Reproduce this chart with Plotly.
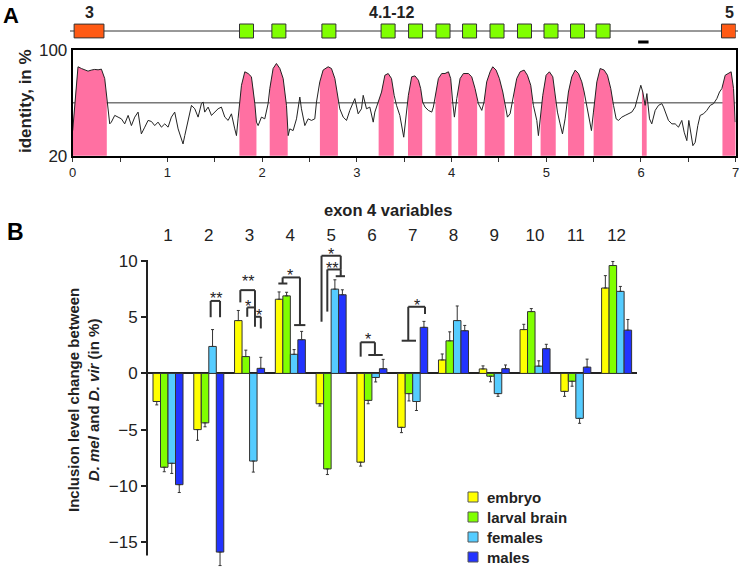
import numpy as np
import plotly.graph_objects as go

# ---------------- Panel A data ----------------
identity_pos = [0.000, 0.028, 0.056, 0.092, 0.127, 0.162, 0.197, 0.232, 0.268, 0.303, 0.338, 0.356, 0.373, 0.391,
                0.408, 0.444, 0.479, 0.514, 0.549, 0.585, 0.620, 0.655, 0.690, 0.725, 0.761, 0.796, 0.831, 0.866,
                0.901, 0.937, 0.972, 1.007, 1.042, 1.077, 1.113, 1.148, 1.165, 1.183, 1.218, 1.254, 1.289, 1.324,
                1.359, 1.377, 1.394, 1.430, 1.465, 1.500, 1.535, 1.570, 1.606, 1.641, 1.676, 1.711, 1.729, 1.746,
                1.782, 1.817, 1.852, 1.887, 1.905, 1.923, 1.940, 1.958, 1.993, 2.028, 2.063, 2.081, 2.116, 2.151,
                2.187, 2.222, 2.257, 2.275, 2.292, 2.327, 2.363, 2.398, 2.415, 2.451, 2.486, 2.521, 2.556, 2.574,
                2.609, 2.644, 2.697, 2.732, 2.768, 2.796, 2.820, 2.856, 2.891, 2.926, 2.961, 2.979, 3.014, 3.049,
                3.067, 3.102, 3.137, 3.173, 3.190, 3.225, 3.261, 3.296, 3.331, 3.366, 3.394, 3.419, 3.454, 3.495,
                3.544, 3.579, 3.614, 3.650, 3.674, 3.695, 3.720, 3.755, 3.791, 3.808, 3.826, 3.861, 3.896, 3.931,
                3.967, 3.991, 4.012, 4.030, 4.055, 4.090, 4.125, 4.178, 4.213, 4.248, 4.283, 4.319, 4.343, 4.371,
                4.407, 4.435, 4.470, 4.505, 4.541, 4.565, 4.590, 4.618, 4.653, 4.688, 4.724, 4.766, 4.801, 4.836,
                4.864, 4.900, 4.917, 4.935, 4.963, 4.998, 5.033, 5.069, 5.093, 5.118, 5.146, 5.171, 5.199, 5.234,
                5.269, 5.305, 5.340, 5.375, 5.400, 5.428, 5.453, 5.477, 5.498, 5.534, 5.569, 5.611, 5.646, 5.681,
                5.710, 5.738, 5.762, 5.798, 5.833, 5.868, 5.903, 5.938, 5.974, 5.998, 6.019, 6.044, 6.062, 6.090,
                6.114, 6.150, 6.185, 6.220, 6.238, 6.266, 6.290, 6.326, 6.361, 6.396, 6.431, 6.456, 6.484, 6.505,
                6.527, 6.548, 6.572, 6.600, 6.625, 6.660, 6.695, 6.731, 6.766, 6.801, 6.829, 6.854, 6.889, 6.924,
                6.952, 6.977, 6.995]
identity_pct = [39.0, 65.7, 87.3, 86.0, 84.8, 84.0, 84.8, 85.3, 85.0, 85.5, 78.4, 65.7, 53.0, 44.1,
                45.4, 50.5, 49.2, 47.9, 44.1, 50.5, 42.8, 49.2, 53.0, 36.5, 41.6, 46.7, 45.9, 42.8,
                45.4, 41.6, 44.1, 41.6, 49.2, 53.0, 40.3, 31.4, 28.9, 35.2, 46.7, 58.1, 55.5, 49.2,
                59.4, 60.6, 53.0, 56.8, 50.5, 53.0, 55.5, 56.8, 49.2, 46.7, 51.7, 40.3, 35.2, 47.9,
                73.3, 83.5, 82.2, 79.7, 70.8, 59.4, 45.4, 42.8, 49.2, 47.9, 59.4, 70.8, 86.0, 89.8,
                86.0, 78.4, 58.1, 35.2, 40.3, 39.0, 47.9, 64.4, 55.5, 42.8, 47.9, 46.7, 47.9, 60.6,
                75.9, 84.8, 87.3, 86.0, 78.4, 65.7, 55.5, 49.2, 46.7, 54.3, 59.4, 63.2, 51.7, 55.5,
                65.7, 55.5, 56.8, 45.4, 53.0, 60.6, 68.2, 80.9, 82.2, 78.4, 65.7, 58.1, 50.5, 34.0,
                65.7, 79.7, 80.4, 77.1, 70.8, 60.6, 56.8, 54.3, 53.0, 56.8, 64.4, 78.4, 82.2, 82.2,
                83.5, 78.4, 60.6, 49.2, 63.2, 78.4, 82.2, 82.2, 79.7, 70.8, 59.4, 54.3, 60.6, 75.9,
                83.5, 87.3, 84.8, 78.4, 68.2, 58.1, 49.2, 51.7, 65.7, 78.4, 83.5, 84.8, 80.9, 73.3,
                58.1, 46.7, 35.2, 45.4, 65.7, 80.9, 83.5, 79.7, 65.7, 53.0, 44.1, 36.5, 47.9, 68.2,
                79.7, 84.8, 82.2, 75.9, 68.2, 58.1, 46.7, 39.0, 53.0, 75.9, 86.0, 84.8, 80.9, 70.8,
                58.1, 47.9, 46.7, 49.2, 50.5, 51.7, 53.0, 56.8, 65.7, 73.3, 68.2, 58.1, 67.0, 47.9,
                44.1, 54.3, 58.1, 59.4, 56.8, 50.5, 46.7, 44.1, 44.1, 41.6, 46.7, 37.8, 31.4, 46.7,
                36.5, 27.6, 30.1, 42.8, 50.5, 51.7, 54.3, 58.1, 59.4, 63.2, 68.2, 70.8, 80.9, 82.2,
                83.5, 70.8, 45.4]
identity_threshold = 60
exon_regions = [(0.0, 0.36), (1.76, 1.94), (2.08, 2.27), (2.61, 2.80), (3.23, 3.39), (3.54, 3.69),
                (3.83, 4.00), (4.07, 4.27), (4.35, 4.56), (4.66, 4.85), (4.94, 5.10), (5.23, 5.40),
                (5.50, 5.70), (6.01, 6.06), (6.86, 7.0)]
exon4_centers = [1.835, 2.177, 2.705, 3.33, 3.62, 3.91, 4.19, 4.48, 4.77, 5.05, 5.33, 5.60]
exon3_span = [0.015, 0.33]
exon5_span = [6.85, 7.0]
probe_span = [5.97, 6.08]
kb_ticks = [0, 1, 2, 3, 4, 5, 6, 7]

# ---------------- Panel B data ----------------
variables = list(range(1, 13))
tissues = ["embryo", "larval brain", "females", "males"]
embryo = [-2.5, -5.0, 4.7, 6.6, -2.7, -7.9, -4.8, 1.2, 0.4, 3.9, -1.6, 7.6]
larval_brain = [-8.35, -4.4, 1.5, 6.9, -8.5, -2.4, -1.8, 2.9, -0.25, 5.5, -0.7, 9.6]
females = [-8.0, 2.4, -7.8, 1.7, 7.5, -0.36, -2.5, 4.7, -1.8, 0.65, -4.0, 7.3]
males = [-9.9, -15.9, 0.45, 3.0, 7.0, 0.42, 4.1, 3.8, 0.42, 2.2, 0.56, 3.85]
embryo_err = [0.3, 0.95, 0.9, 0.65, 0.2, 0.35, 0.47, 0.53, 0.27, 0.47, 0.44, 1.1]
larval_brain_err = [0.4, 0.35, 0.57, 0.32, 0.5, 0.3, 0.65, 0.8, 0.5, 0.27, 0.44, 0.36]
females_err = [0.9, 1.5, 0.98, 0.42, 0.83, 0.4, 0.8, 1.3, 0.24, 0.47, 0.44, 0.44]
males_err = [0.7, 1.2, 0.98, 0.74, 0.44, 0.83, 0.53, 0.47, 0.33, 0.39, 0.71, 0.95]
y_ticks_b = [-15, -10, -5, 0, 5, 10]

# significance brackets: group, legs (bar index), top, leg bottoms, optional crossbars
brackets = [
    dict(g=2, xl=1.75, xr=3.0, top=6.45, yl=5.0, yr=5.0),
    dict(g=3, xl=0.27, xr=2.22, top=7.41, yl=6.32, yr=4.15),
    dict(g=3, xl=1.19, xr=2.22, top=5.87, yl=5.04, yr=None),
    dict(g=3, xl=2.22, xr=3.0, top=5.04, yl=None, yr=4.0),
    dict(g=4, xl=0.47, xr=2.78, top=8.54, yl=8.0, yr=4.3, tl=(-0.1, 1.1), tr=(2.0, 3.5)),
    dict(g=5, xl=0.22, xr=2.78, top=10.47, yl=4.6, yr=9.25),
    dict(g=5, xl=0.99, xr=2.78, top=9.25, yl=5.5, yr=8.65, tr=(2.11, 3.35)),
    dict(g=6, xl=0.0, xr=1.9, top=2.77, yl=1.49, yr=1.64, tr=(1.02, 2.94)),
    dict(g=7, xl=0.91, xr=3.14, top=5.93, yl=2.91, yr=5.28, tl=(0.03, 1.94)),
]
stars = [
    (2, 2.4, 7.13, "**"), (3, 1.3, 8.6, "**"), (3, 1.33, 6.37, "*"), (3, 2.75, 5.63, "*"),
    (4, 1.5, 9.2, "*"), (5, 1.45, 11.0, "*"), (5, 1.58, 9.75, "**"), (6, 1.02, 3.42, "*"),
    (7, 2.03, 6.53, "*"),
]

# ---------------- styling ----------------
W, H = 740, 567
FONT = "Arial, Liberation Sans, sans-serif"
DARK = "#222222"
PINK = "#FF70A2"
ORANGE = "#FF5A14"
LIME = "#80FF00"
colors = ["#FFFF00", "#80FF00", "#55CCFF", "#2233FF"]
BARGAP = 0.264
BW = (1 - BARGAP) / 4


def PX(x):
    return x / W


def PY(y):
    return 1 - y / H


def bx(g, idx):
    return g + (idx - 1.5) * BW


fig = go.Figure()

# ---- Panel A: pink conserved exon fills ----
pos = np.array(identity_pos)
pct = np.array(identity_pct)
for a, b in exon_regions:
    m = (pos > a) & (pos < b)
    xs = [a] + list(pos[m]) + [b]
    ys = list(np.interp(xs, pos, pct))
    fig.add_trace(go.Scatter(x=xs, y=ys, mode="none", fill="tozeroy", fillcolor=PINK,
                             showlegend=False, hoverinfo="skip", xaxis="x", yaxis="y"))
fig.add_trace(go.Scatter(x=identity_pos, y=identity_pct, mode="lines",
                         line=dict(color=DARK, width=1), showlegend=False, xaxis="x", yaxis="y"))

# ---- Panel A: gene structure ----
fig.add_trace(go.Scatter(x=exon4_centers, y=[0.5] * len(exon4_centers), mode="markers",
                         marker=dict(symbol="square", size=14, color=LIME, line=dict(color="#333", width=1)),
                         showlegend=False, xaxis="x2", yaxis="y2", cliponaxis=False))

shapes = []
shapes.append(dict(type="line", xref="paper", yref="y2", x0=PX(70), x1=PX(738), y0=0.5, y1=0.5,
                   line=dict(color="#333", width=1), layer="below"))
for span in (exon3_span, exon5_span):
    shapes.append(dict(type="rect", xref="x2", yref="y2", x0=span[0], x1=span[1], y0=0.27, y1=0.73,
                       fillcolor=ORANGE, line=dict(color="#333", width=1)))
shapes.append(dict(type="line", xref="x2", yref="paper", x0=probe_span[0], x1=probe_span[1],
                   y0=PY(42), y1=PY(42), line=dict(color="black", width=3)))
shapes.append(dict(type="line", xref="x", yref="y", x0=0, x1=7, y0=identity_threshold, y1=identity_threshold,
                   line=dict(color="#333", width=1), layer="below"))

# ---- Panel B: bars ----
series = [embryo, larval_brain, females, males]
errs = [embryo_err, larval_brain_err, females_err, males_err]
for name, vals, err, col in zip(tissues, series, errs, colors):
    plus = [e if v >= 0 else 0 for v, e in zip(vals, err)]
    minus = [e if v < 0 else 0 for v, e in zip(vals, err)]
    fig.add_trace(go.Bar(x=variables, y=vals, name=name, marker=dict(color=col, line=dict(color="#333", width=1)),
                         error_y=dict(type="data", symmetric=False, array=plus, arrayminus=minus,
                                      color="#333", thickness=1, width=1.5),
                         showlegend=False, xaxis="x3", yaxis="y3"))

# brackets
bl = dict(color="#333", width=2)
for br in brackets:
    g = br["g"]
    xl, xr = bx(g, br["xl"]), bx(g, br["xr"])
    shapes.append(dict(type="line", xref="x3", yref="y3", x0=xl, x1=xr, y0=br["top"], y1=br["top"], line=bl))
    if br["yl"] is not None:
        shapes.append(dict(type="line", xref="x3", yref="y3", x0=xl, x1=xl, y0=br["top"], y1=br["yl"], line=bl))
    if br["yr"] is not None:
        shapes.append(dict(type="line", xref="x3", yref="y3", x0=xr, x1=xr, y0=br["top"], y1=br["yr"], line=bl))
    if "tl" in br:
        shapes.append(dict(type="line", xref="x3", yref="y3", x0=bx(g, br["tl"][0]), x1=bx(g, br["tl"][1]),
                           y0=br["yl"], y1=br["yl"], line=bl))
    if "tr" in br:
        shapes.append(dict(type="line", xref="x3", yref="y3", x0=bx(g, br["tr"][0]), x1=bx(g, br["tr"][1]),
                           y0=br["yr"], y1=br["yr"], line=bl))

# y axis line of panel B
shapes.append(dict(type="line", xref="paper", yref="y3", x0=PX(147), x1=PX(147), y0=-16.2, y1=10.1,
                   line=dict(color=DARK, width=2)))

annotations = []
for g, idx, yv, txt in stars:
    annotations.append(dict(x=bx(g, idx), y=yv, xref="x3", yref="y3", text=txt, showarrow=False,
                            xanchor="center", yanchor="middle",
                            font=dict(size=16, color=DARK, family=FONT), yshift=-5))


def ptext(x, y, text, size, angle=0, color=DARK, xanchor="center"):
    return dict(x=PX(x), y=PY(y), xref="paper", yref="paper", text=text, showarrow=False,
                xanchor=xanchor, yanchor="middle", textangle=angle,
                font=dict(size=size, color=color, family=FONT))


annotations += [
    ptext(10.5, 15, "<b>A</b>", 22, color="black"),
    ptext(15, 232, "<b>B</b>", 23, color="black"),
    ptext(89, 13, "<b>3</b>", 16),
    ptext(391.5, 13, "<b>4.1-12</b>", 16),
    ptext(729, 13, "<b>5</b>", 16),
    ptext(26, 101, "<b>identity, in %</b>", 17, angle=-90),
    ptext(388, 210, "<b>exon 4 variables</b>", 16.5),
    ptext(83, 400, "<b>Inclusion level change between<br><i>D. mel</i> and <i>D. vir</i> (in %)</b>", 15, angle=-90),
]

# manual legend (square swatches + labels)
LEG_X, LEG_Y0, LEG_DY, SW = 473, 497, 20, 10
for i, (name, col) in enumerate(zip(tissues, colors)):
    yc = LEG_Y0 + i * LEG_DY
    shapes.append(dict(type="rect", xref="paper", yref="paper", x0=PX(LEG_X - SW / 2), x1=PX(LEG_X + SW / 2),
                       y0=PY(yc + SW / 2), y1=PY(yc - SW / 2), fillcolor=col, line=dict(color="#555", width=1)))
    annotations.append(ptext(LEG_X + 12, yc, "<b>%s</b>" % name, 15, xanchor="left"))

fig.update_layout(
    width=W, height=H, margin=dict(l=0, r=0, t=0, b=0, autoexpand=False),
    paper_bgcolor="white", plot_bgcolor="rgba(0,0,0,0)",
    font=dict(family=FONT, color=DARK),
    barmode="group", bargap=BARGAP, bargroupgap=0,
    shapes=shapes, annotations=annotations,
    showlegend=False,
    xaxis=dict(domain=[PX(72.7), PX(735.7)], range=[0, 7], tickvals=kb_ticks, automargin=False,
               ticks="outside", ticklen=4, tickcolor="#333", showline=True, mirror=True, linecolor="black",
               linewidth=2, showgrid=False, zeroline=False, tickfont=dict(size=13, color=DARK),
               minor=dict(ticks="outside", dtick=0.5, ticklen=4, tickcolor="#333")),
    yaxis=dict(domain=[PY(155.7), PY(50)], range=[20, 100], tickvals=[20, 100], ticks="", automargin=False,
               showline=True, mirror=True, linecolor="black", linewidth=2, showgrid=False, zeroline=False,
               tickfont=dict(size=17, color=DARK)),
    xaxis2=dict(domain=[PX(72.7), PX(735.7)], range=[0, 7], visible=False, anchor="y2", automargin=False),
    yaxis2=dict(domain=[PY(46), PY(16)], range=[0, 1], visible=False, anchor="x2", automargin=False),
    xaxis3=dict(domain=[PX(147), PX(637)], range=[0.485, 12.5], anchor="y3", side="top", automargin=False,
                tickvals=variables, ticks="", showline=False, showgrid=False, zeroline=False,
                tickfont=dict(size=17, color=DARK)),
    yaxis3=dict(domain=[PY(566.7), PY(245.3)], range=[-17.2, 11.4], anchor="x3", tickvals=y_ticks_b,
                automargin=False,
                ticks="outside", ticklen=5, tickwidth=2, tickcolor=DARK, showline=False, showgrid=False,
                zeroline=True, zerolinecolor=DARK, zerolinewidth=2, tickfont=dict(size=17, color=DARK)),
)

fig.write_html("out.html", config={"displayModeBar": False},
               post_script="document.body.style.margin='0';document.body.style.padding='0';")
